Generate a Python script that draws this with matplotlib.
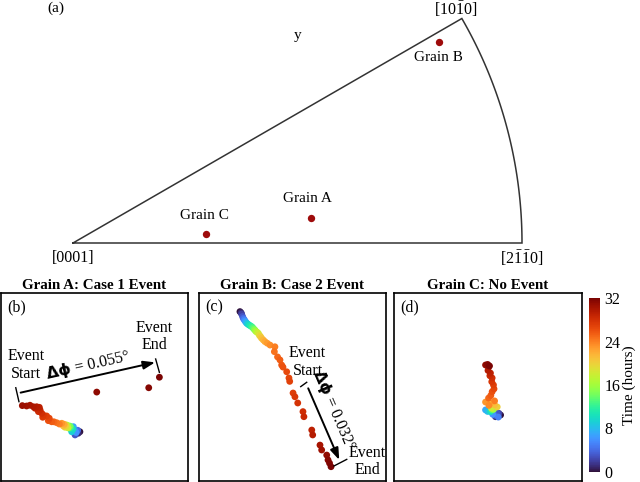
import numpy as np
import matplotlib
matplotlib.use("Agg")
import matplotlib.pyplot as plt

plt.rcParams['font.family'] = ['Liberation Serif', 'DejaVu Serif']
plt.rcParams['mathtext.fontset'] = 'custom'
plt.rcParams['mathtext.rm'] = 'Liberation Serif'
plt.rcParams['mathtext.it'] = 'Liberation Serif:italic'
plt.rcParams['mathtext.bf'] = 'DejaVu Sans:bold'

# ---------------- data ----------------
# Inverse pole figure positions (angle in degrees, radius as fraction of unit circle)
grain_names = ['Grain A', 'Grain B', 'Grain C']
grain_theta = [6.06, 28.8, 3.74]
grain_r = [0.534, 0.930, 0.297]
grain_label_offset = [(-3.2, 13.5), (-0.7, -11.5), (-1.4, 13.2)]  # points

corner_labels = ['[0001]', r'[10$\bar{1}$0]', r'[2$\bar{1}\bar{1}$0]']

# Panel (b) Grain A : relative orientation path (arb. units) and time (hours)
a_x = [42.2, 41.3, 40.5, 39.6, 41.0, 39.6, 40.2, 38.7, 37.8, 37.8, 38.5, 36.9, 37.4,
       36.4, 36.9, 36.0, 35.6, 35.1, 35.8, 34.2, 34.6, 33.3, 33.8, 32.5, 31.2, 29.8,
       28.3, 27.1, 25.3, 25.8, 24.4, 22.3, 22.6, 21.8, 20.0, 20.9, 18.2, 20.5, 19.1,
       17.3, 15.5, 13.7, 11.4, 51.2, 79.0, 84.7]
a_y = [26.2, 25.4, 26.2, 24.5, 27.0, 27.1, 25.8, 28.9, 27.1, 26.2, 27.6, 28.0, 28.6,
       28.2, 29.2, 28.9, 29.5, 29.8, 28.3, 28.6, 29.4, 29.3, 30.2, 30.7, 30.3, 31.0,
       31.5, 31.5, 32.1, 33.4, 34.6, 33.9, 35.1, 36.0, 36.9, 37.8, 38.7, 39.2, 39.5,
       39.5, 40.3, 39.9, 40.1, 47.3, 49.6, 55.2]
a_t = [0, 1, 2, 3, 4, 5, 6, 7, 8, 9, 10, 11, 12, 13, 14, 15, 16, 17, 18, 19, 20, 21,
       22, 23, 24, 24.5, 25, 25.5, 26, 26.5, 27, 27.3, 27.6, 28, 28.3, 28.6, 28.9,
       29.2, 29.5, 29.8, 30.1, 30.4, 30.7, 31.2, 31.6, 32]

# Panel (c) Grain B
b_x = [21.9, 22.5, 22.8, 23.3, 23.7, 24.2, 24.6, 25.1, 25.5, 26.1, 26.7, 27.4, 28.2,
       28.8, 29.4, 29.9, 30.4, 31.0, 31.7, 32.3, 32.9, 33.5, 34.4, 35.3, 36.5, 38.0,
       40.6, 40.3, 42.0, 43.3, 44.2, 44.9, 46.9, 48.1, 48.5, 50.3, 51.3, 52.8, 55.6,
       56.1, 60.3, 60.8, 64.7, 65.6, 68.3, 69.0, 69.8, 70.6]
b_y = [90.1, 89.5, 88.8, 87.5, 86.5, 85.8, 85.1, 84.5, 83.9, 83.5, 83.0, 82.6, 82.1,
       81.5, 80.8, 80.3, 79.6, 79.2, 78.6, 77.5, 76.8, 75.9, 75.0, 74.1, 73.3, 72.3,
       71.4, 68.8, 66.0, 64.4, 61.7, 60.6, 58.1, 54.8, 53.0, 46.8, 44.8, 41.5, 36.9,
       34.2, 27.1, 24.5, 19.1, 16.5, 13.8, 11.2, 9.5, 7.6]
b_t = [0, 1, 2, 3, 4, 5, 6, 7, 8, 9, 10, 11, 12, 13, 14, 15, 16, 17, 18, 19, 20, 20.8,
       21.5, 22.2, 22.8, 23.4, 24, 24.5, 25, 25.4, 25.8, 26.1, 26.4, 26.7, 26.9, 27.2,
       27.5, 27.8, 28.2, 28.6, 29.2, 29.6, 30.2, 30.6, 31.0, 31.4, 31.7, 32]

# Panel (d) Grain C
c_x = [56.7, 54.0, 55.8, 54.9, 53.5, 55.5, 52.5, 48.7, 49.8, 51.3, 52.2, 53.0, 51.8,
       54.9, 53.5, 51.3, 48.7, 50.5, 53.5, 50.3, 51.5, 52.2, 53.2, 52.9, 52.0, 52.2,
       51.0, 51.3, 50.0, 50.4, 49.5, 48.7, 49.8, 50.8]
c_y = [35.1, 34.2, 36.0, 36.2, 35.0, 34.0, 35.5, 37.8, 37.0, 36.9, 37.8, 38.2, 38.8,
       39.4, 40.5, 41.5, 42.0, 40.2, 42.6, 44.1, 45.5, 47.5, 49.0, 51.1, 52.8, 54.8,
       56.0, 57.4, 58.8, 60.8, 61.5, 61.7, 62.0, 61.2]
c_t = [0, 1, 2, 3, 4, 5, 6, 7, 8, 10, 13, 16, 18, 20, 21, 22, 23, 23.5, 24, 25, 25.5,
       26, 26.5, 27, 27.5, 28, 28.5, 29, 29.5, 30, 30.5, 31, 31.5, 32]

panel_titles = ['Grain A: Case 1 Event', 'Grain B: Case 2 Event', 'Grain C: No Event']
panel_letters = ['(b)', '(c)', '(d)']
cbar_ticks = [0, 8, 16, 24, 32]

W, H = 640, 482
fig = plt.figure(figsize=(6.4, 4.82), dpi=100)

def px_axes(x0, y0, x1, y1):
    """axes from pixel box (top-left origin)"""
    return fig.add_axes([x0 / W, (H - y1) / H, (x1 - x0) / W, (y1 - y0) / H])

# ---------------- (a) IPF wedge ----------------
ox, oy, R = 73, 243, 449.0
axa = px_axes(0, 0, 640, 265)
axa.set_xlim(-ox / R, (W - ox) / R)
axa.set_ylim(-(265 - oy) / R, oy / R)
axa.axis('off')
ang = np.radians(np.linspace(0, 30, 100))
wx = np.concatenate([[0], np.cos(ang), [0]])
wy = np.concatenate([[0], np.sin(ang), [0]])
axa.plot(wx, wy, color='#333333', lw=1.1, solid_joinstyle='miter')
gx = [r * np.cos(np.radians(t)) for r, t in zip(grain_r, grain_theta)]
gy = [r * np.sin(np.radians(t)) for r, t in zip(grain_r, grain_theta)]
axa.scatter(gx, gy, s=28, color='#9e0b0b', zorder=3, linewidths=0)
for name, x, y, off in zip(grain_names, gx, gy, grain_label_offset):
    axa.annotate(name, (x, y), xytext=off, textcoords='offset points',
                 ha='center', va='center', fontsize=11)
c30 = (np.cos(np.radians(30)), np.sin(np.radians(30)))
axa.text(0, -0.034, corner_labels[0], ha='center', va='center', fontsize=11.5)
axa.text(c30[0] - 0.013, 0.52, corner_labels[1], ha='center', va='center', fontsize=11.5)
axa.text(1.0, -0.034, corner_labels[2], ha='center', va='center', fontsize=11.5)
axa.text(0.501, 0.463, 'y', ha='center', va='center', fontsize=11)
axa.text(-0.038, 0.523, '(a)', ha='center', va='center', fontsize=11)

# ---------------- (b)-(d) ----------------
cmap = plt.get_cmap('turbo')
boxes = [(1, 188), (199, 386), (394, 582)]
datasets = [(a_x, a_y, a_t), (b_x, b_y, b_t), (c_x, c_y, c_t)]
axes = []
for (x0, x1), (xs, ys, ts), title, letter in zip(boxes, datasets, panel_titles, panel_letters):
    ax = px_axes(x0, 293, x1, 481)
    ax.set_xlim(0, 100)
    ax.set_ylim(0, 100)
    ax.set_xticks([])
    ax.set_yticks([])
    for sp in ax.spines.values():
        sp.set_linewidth(1.2)
    sc = ax.scatter(xs, ys, c=ts, cmap=cmap, vmin=0, vmax=32, s=24, linewidths=0)
    ax.set_title(title, fontsize=10.8, fontweight='bold', pad=3)
    ax.text(3.5, 92.5, letter, ha='left', va='center', fontsize=11.5)
    axes.append(ax)

arrow_kw = dict(arrowstyle='-|>,head_length=0.7,head_width=0.25', color='black', lw=1.4,
                shrinkA=0, shrinkB=0)
fs_ev = 11.5

# (b) annotations
axb = axes[0]
axb.annotate('', xy=(82.4, 63.1), xytext=(10.5, 47.0), arrowprops=arrow_kw)
axb.plot([7.9, 9.6], [49.6, 42.2], color='black', lw=1.0)
axb.plot([82.7, 84.7], [64.9, 57.8], color='black', lw=1.0)
axb.text(46.5, 61.5, r'$\mathbf{Δϕ}$ = 0.055°', rotation=12.7, ha='center', va='center',
         fontsize=fs_ev, rotation_mode='anchor')
axb.text(13.2, 61.7, 'Event\nStart', ha='center', va='center', fontsize=fs_ev, linespacing=1.1)
axb.text(82.0, 76.9, 'Event\nEnd', ha='center', va='center', fontsize=fs_ev, linespacing=1.1)

# (c) annotations
axc = axes[1]
axc.annotate('', xy=(75.0, 11.2), xytext=(58.4, 49.3), arrowprops=arrow_kw)
axc.plot([54.4, 57.6], [50.2, 52.5], color='black', lw=1.0)
axc.plot([72.2, 79.0], [8.0, 11.5], color='black', lw=1.0)
axc.text(72.0, 38.0, r'$\mathbf{Δϕ}$ = 0.032°', rotation=-66.6, ha='center', va='center',
         fontsize=fs_ev, rotation_mode='anchor')
axc.text(58.1, 63.3, 'Event\nStart', ha='center', va='center', fontsize=fs_ev, linespacing=1.1)
axc.text(90.0, 10.5, 'Event\nEnd', ha='center', va='center', fontsize=fs_ev, linespacing=1.1)

# colorbar
cax = px_axes(589, 298, 600, 472)
cb = fig.colorbar(sc, cax=cax, ticks=cbar_ticks)
cb.outline.set_visible(False)
cax.tick_params(length=0, pad=3, labelsize=11.5)
cb.set_label('Time (hours)', fontsize=11, labelpad=2)

fig.savefig('out.png', dpi=100)
